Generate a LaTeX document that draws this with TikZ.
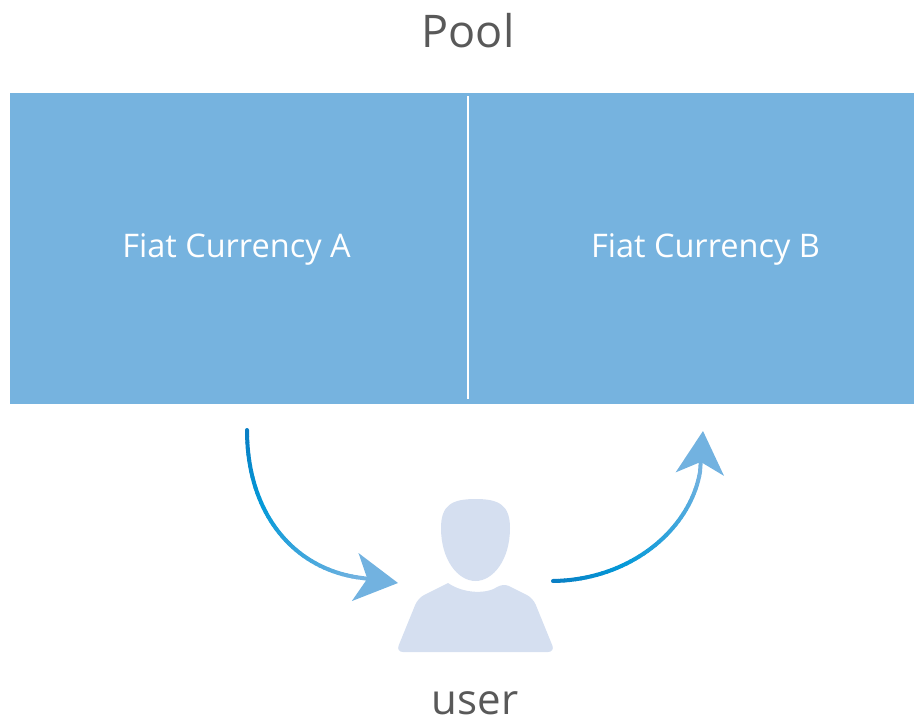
\documentclass[tikz,border=0pt]{standalone}
\usepackage{fontspec}
\setmainfont{Open Sans}
\usetikzlibrary{arrows.meta, positioning}

\definecolor{boxblue}{HTML}{76B3DF}
\definecolor{titlegray}{HTML}{595959}
\definecolor{usercol}{HTML}{D5DFF0}
\definecolor{arrdark}{HTML}{0A7DC2}
\definecolor{arrbright}{HTML}{0499D8}
\definecolor{arrlight}{HTML}{72B2E0}

\tikzset{
  title/.style={text=titlegray, anchor=base, inner sep=0pt, font=\fontsize{45}{50}\selectfont},
  cell/.style={fill=boxblue, inner sep=0pt},
  cellname/.style={text=white, anchor=base, inner sep=0pt, font=\fontsize{32.5}{38}\selectfont},
  arrline/.style={line width=4pt, line cap=round},
  arrtip/.style={arrlight, line width=4pt, -{Stealth[length=43pt, width=48pt, inset=12pt]}}
}

% colour a curve piece by piece: dark -> bright -> light
\newcommand{\shadecurve}[1]{%
  \foreach \i in {1,...,40} {
    \pgfmathtruncatemacro\j{\i-1}
    \pgfmathsetmacro\t{\i/40}
    \ifdim\t pt<0.35pt
      \pgfmathtruncatemacro\m{100*\t/0.35}
      \colorlet{segcol}{arrbright!\m!arrdark}
    \else
      \pgfmathtruncatemacro\m{100*(\t-0.35)/0.65}
      \colorlet{segcol}{arrlight!\m!arrbright}
    \fi
    \draw[arrline, segcol] (#1\j) -- (#1\i);
  }}

\begin{document}
\begin{tikzpicture}[x=1pt, y=-1pt]
\useasboundingbox (0,0) rectangle (914,720);

% pool
\node[title] (pool) at (468,47) {Pool};
\node[cell, minimum width=904pt, minimum height=311pt] (box) at (462,248.5) {};
\draw[white, line width=2pt] (468,96) -- (468,398.5);
\node[cellname] (fiatA) at (236.5,257) {Fiat Currency A};
\node[cellname] (fiatB) at (705.5,257) {Fiat Currency B};

% user
\fill[usercol] (441,528) .. controls (441,505) and (452,499) .. (475.5,499)
  .. controls (499,499) and (510,505) .. (510,528)
  .. controls (510,560) and (493,581) .. (475.5,581)
  .. controls (458,581) and (441,560) .. (441,528) -- cycle;
\fill[usercol] (448,583) [rounded corners=7pt] -- (418,598) -- (396,652) -- (555,652) -- (533,598) -- (503,583)
  [sharp corners] .. controls (487,594) and (464,594) .. (448,583) -- cycle;
\node[title, font=\fontsize{42}{46}\selectfont] (user) at (475,714) {user};

% arrows
\coordinate (startA) at (247,430);
\coordinate (endA) at (362,578);
\coordinate (tipA) at (398,583);
\coordinate (startB) at (553,581);
\coordinate (endB) at (700,472);
\coordinate (tipB) at (703,431);

\path (startA) .. controls (247,515) and (295,570) .. (endA)
  foreach \k in {0,...,40} {coordinate[pos=\k/40] (la\k)};
\path (startB) .. controls (630,580) and (690,530) .. (endB)
  foreach \k in {0,...,40} {coordinate[pos=\k/40] (lb\k)};
\shadecurve{la}
\shadecurve{lb}
\draw[arrtip] (endA) -- (tipA);
\draw[arrtip] (endB) -- (tipB);
\end{tikzpicture}
\end{document}
